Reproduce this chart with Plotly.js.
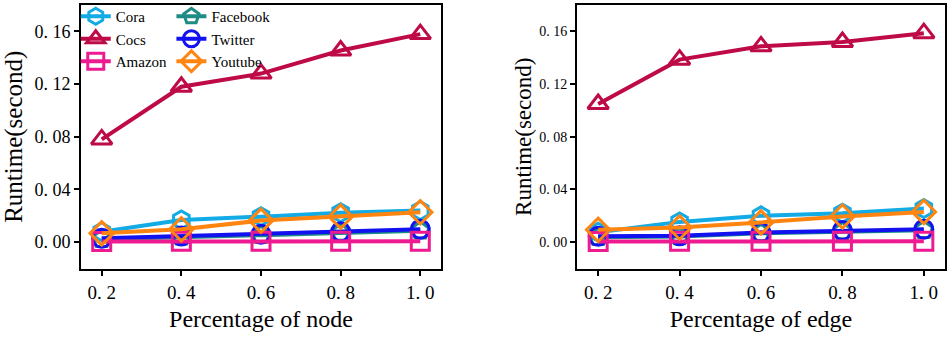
<!DOCTYPE html>
<html>
<head>
<meta charset="utf-8">
<script src="https://cdn.plot.ly/plotly-3.0.1.min.js"></script>
<style>
  html, body { margin: 0; padding: 0; background: #fff; }
  #chart { width: 947px; height: 338px; }
</style>
</head>
<body>
<div id="chart"></div>
<script>
// x values shared by both panels
var pct = [0.2, 0.4, 0.6, 0.8, 1.0];

// left panel: percentage of node
var nodeCora     = [0.0078, 0.0168, 0.0193, 0.0223, 0.0239];
var nodeFacebook = [0.0022, 0.0040, 0.0052, 0.0068, 0.0086];
var nodeCocs     = [0.0780, 0.1180, 0.1280, 0.1455, 0.1580];
var nodeTwitter  = [0.0028, 0.0046, 0.0060, 0.0078, 0.0097];
var nodeAmazon   = [0.0004, 0.0005, 0.0005, 0.0005, 0.0005];
var nodeYoutube  = [0.0066, 0.0097, 0.0163, 0.0193, 0.0226];

// right panel: percentage of edge
var edgeCora     = [0.0075, 0.0153, 0.0199, 0.0219, 0.0254];
var edgeFacebook = [0.0036, 0.0042, 0.0066, 0.0080, 0.0090];
var edgeCocs     = [0.1049, 0.1386, 0.1487, 0.1520, 0.1587];
var edgeTwitter  = [0.0043, 0.0048, 0.0073, 0.0088, 0.0098];
var edgeAmazon   = [0.0004, 0.0005, 0.0005, 0.0005, 0.0005];
var edgeYoutube  = [0.0093, 0.0110, 0.0149, 0.0194, 0.0229];

var yTickVals = [0, 0.04, 0.08, 0.12, 0.16];
var yTickText = ['0. 00', '0. 04', '0. 08', '0. 12', '0. 16'];
var xTickText = ['0. 2', '0. 4', '0. 6', '0. 8', '1. 0'];

// drawing order; legend column 1 = Cora, Cocs, Amazon, column 2 = the rest
var names   = ['Cora', 'Facebook', 'Cocs', 'Twitter', 'Amazon', 'Youtube'];
var legCol  = ['legend', 'legend2', 'legend', 'legend2', 'legend', 'legend2'];
var colors  = ['#12ABE6', '#1E8C84', '#BE0A46', '#1212F0', '#EE1A91', '#FF8410'];
var symbols = ['hexagon-open', 'pentagon-open', 'triangle-up-open', 'circle-open', 'square-open', 'diamond-open'];
var nodeSeries = [nodeCora, nodeFacebook, nodeCocs, nodeTwitter, nodeAmazon, nodeYoutube];
var edgeSeries = [edgeCora, edgeFacebook, edgeCocs, edgeTwitter, edgeAmazon, edgeYoutube];

var data = [];
function addTraces(series, xa, ya, showleg) {
  for (var i = 0; i < names.length; i++) {
    data.push({
      x: pct,
      y: series[i],
      xaxis: xa,
      yaxis: ya,
      name: names[i],
      legend: legCol[i],
      showlegend: showleg,
      mode: 'lines+markers',
      line: {color: colors[i], width: 4},
      marker: {symbol: symbols[i], size: 18, color: colors[i], line: {color: colors[i], width: 3}}
    });
  }
}
addTraces(nodeSeries, 'x', 'y', true);
addTraces(edgeSeries, 'x2', 'y2', false);

var serif = 'Liberation Serif';

function xAxis(domain, title, anchor) {
  return {
    domain: domain, anchor: anchor,
    range: [0.148, 1.052],
    tickvals: pct, ticktext: xTickText,
    ticks: 'outside', ticklen: 5, tickwidth: 1.5, tickcolor: '#000',
    showline: true, mirror: true, linecolor: '#000', linewidth: 2,
    showgrid: false, zeroline: false,
    tickfont: {family: serif, size: 19, color: '#000'},
    title: {text: title, font: {family: serif, size: 24, color: '#000'}, standoff: 8}
  };
}
function yAxis(domain, anchor, fontSize, titleSize, standoff) {
  return {
    domain: domain, anchor: anchor,
    range: [-0.0205, 0.1805],
    tickvals: yTickVals, ticktext: yTickText,
    ticks: 'outside', ticklen: 5, tickwidth: 1.5, tickcolor: '#000',
    showline: true, mirror: true, linecolor: '#000', linewidth: 2,
    showgrid: false, zeroline: false,
    tickfont: {family: serif, size: fontSize, color: '#000'},
    title: {text: 'Runtime(second)', font: {family: serif, size: titleSize, color: '#000'}, standoff: standoff}
  };
}

function legendBox(x) {
  return {
    x: x, y: 1.0, xanchor: 'left', yanchor: 'top',
    orientation: 'v',
    bgcolor: 'rgba(0,0,0,0)',
    font: {family: serif, size: 15, color: '#000'},
    tracegroupgap: 0, itemwidth: 30
  };
}

var layout = {
  width: 947,
  height: 338,
  margin: {l: 0, r: 0, t: 0, b: 0},
  font: {family: serif, color: '#000'},
  paper_bgcolor: '#fff',
  plot_bgcolor: '#fff',
  showlegend: true,
  legend: legendBox(0.080),
  legend2: legendBox(0.181),
  xaxis: xAxis([81 / 947, 441 / 947], 'Percentage of node', 'y'),
  yaxis: yAxis([1 - 269 / 338, 1 - 4.5 / 338], 'x', 18, 25, 6),
  xaxis2: xAxis([577 / 947, 945 / 947], 'Percentage of edge', 'y2'),
  yaxis2: yAxis([1 - 269 / 338, 1 - 4.5 / 338], 'x2', 14, 23, 1)
};

Plotly.newPlot('chart', data, layout, {displayModeBar: false});
</script>
</body>
</html>
